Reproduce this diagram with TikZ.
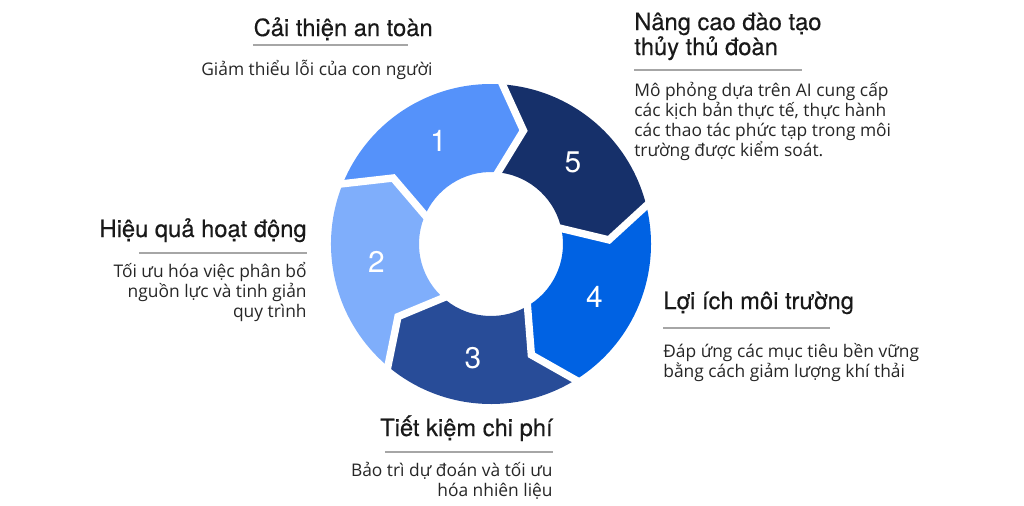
\documentclass[tikz,border=0pt]{standalone}
\usepackage{fontspec}
\setmainfont{TeX Gyre Heros}
\newfontfamily\titlefont{TeX Gyre Heros}[FakeBold=0.35]
\newfontfamily\bodyfont{Open Sans}
\definecolor{segone}{HTML}{5592FA}
\definecolor{segtwo}{HTML}{7FAEFB}
\definecolor{segthree}{HTML}{284C98}
\definecolor{segfour}{HTML}{0062E3}
\definecolor{segfive}{HTML}{16306A}
\begin{document}
\begin{tikzpicture}[x=0.02cm,y=0.02cm,
        title/.style={inner sep=0pt,font=\titlefont\fontsize{13.5}{14.2}\selectfont,text=black!90},
        body/.style={inner sep=0pt,font=\bodyfont\fontsize{9.9}{11.3}\selectfont,text=black!85},
        rule/.style={draw=black!35,line width=0.8pt},
        num/.style={font=\fontsize{17}{17}\selectfont,text=white},
        gap/.style={draw=white,line width=4.2pt}]
        \useasboundingbox (-491,-261) rectangle (533,244);
        %% ring
        \foreach \b/\col/\n in {87/segone/1,159/segtwo/2,231/segthree/3,303/segfour/4,15/segfive/5} {
            \fill[\col] (\b:160) arc[start angle=\b,end angle=\b+72,radius=160] -- (\b+59:118) -- (\b+72:72)
                arc[start angle=\b+72,end angle=\b,radius=72] -- (\b-13:118) -- cycle;
            \node[num] (num\n) at (\b+30:116) {\n};
        }
        %% gaps
        \foreach \b in {15,87,159,231,303} \draw[gap] (\b:166) -- (\b-13:118) -- (\b:66);
        %% 1 (base of a node with several lines is its last line)
        \node[title,anchor=base east] (safety) at (-58,208) {Cải thiện an toàn};
        \draw[rule] (-238,199) -- (-83,199);
        \node[body,anchor=base east] (safetytext) at (-58,169) {Giảm thiểu lỗi của con người};
        %% 2
        \node[title,anchor=base east] (efficiency) at (-184,7) {Hiệu quả hoạt động};
        \draw[rule] (-352,-9) -- (-184,-9);
        \node[body,anchor=base east,align=right] (efficiencytext) at (-184,-73) {Tối ưu hóa việc phân bổ\\nguồn lực và tinh giản\\quy trình};
        %% 3
        \node[title,anchor=base east] (cost) at (62,-192) {Tiết kiệm chi phí};
        \draw[rule] (-106,-208) -- (62,-208);
        \node[body,anchor=base east,align=right] (costtext) at (62,-252) {Bảo trì dự đoán và tối ưu\\hóa nhiên liệu};
        %% 4
        \node[title,anchor=base west] (environment) at (172,-65) {Lợi ích môi trường};
        \draw[rule] (172,-84) -- (339,-84);
        \node[body,anchor=base west,align=left] (environmenttext) at (172,-133) {Đáp ứng các mục tiêu bền vững\\bằng cách giảm lượng khí thải};
        %% 5
        \node[title,anchor=base west,align=left] (training) at (143,189) {Nâng cao đào tạo\\thủy thủ đoàn};
        \draw[rule] (143,174) -- (311,174);
        \node[body,anchor=base west,align=left] (trainingtext) at (143,88) {Mô phỏng dựa trên AI cung cấp\\các kịch bản thực tế, thực hành\\các thao tác phức tạp trong môi\\trường được kiểm soát.};
    \end{tikzpicture}
\end{document}
